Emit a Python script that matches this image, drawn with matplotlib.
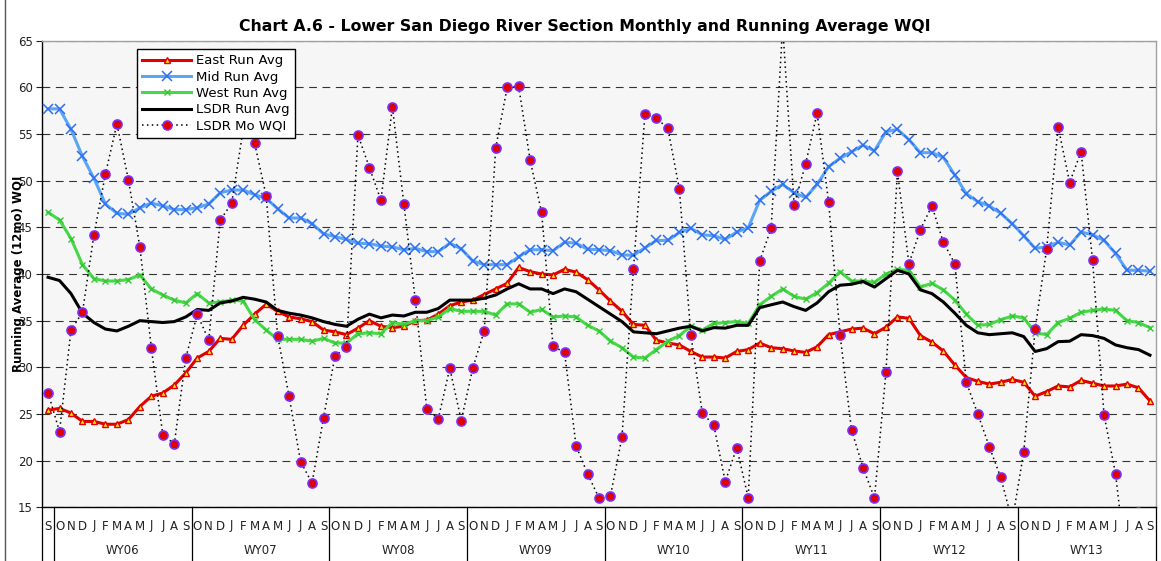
import matplotlib
matplotlib.use("Agg")
import matplotlib.pyplot as plt
import matplotlib.transforms as mtransforms

# ---------------- data ----------------
months = ["S"] + ["O", "N", "D", "J", "F", "M", "A", "M", "J", "J", "A", "S"] * 8
water_years = ["WY06", "WY07", "WY08", "WY09", "WY10", "WY11", "WY12", "WY13"]

east_run = [25.4, 25.6, 25.1, 24.2, 24.2, 23.9, 23.9, 24.4, 25.8, 26.9, 27.25, 28.1, 29.4,
            31.0, 31.7, 33.1, 33.0, 34.5, 35.7, 36.75, 36.0, 35.4, 35.2, 34.9, 34.0,
            33.8, 33.5, 34.2, 35.0, 34.4, 34.25, 34.4, 35.0, 35.05, 35.7, 36.6, 37.0,
            37.2, 37.8, 38.4, 39.0, 40.7, 40.25, 40.0, 39.9, 40.5, 40.2, 39.4, 38.3,
            37.1, 36.0, 34.6, 34.5, 32.9, 32.6, 32.4, 31.7, 31.1, 31.1, 31.0, 31.7,
            31.9, 32.6, 32.1, 32.0, 31.75, 31.6, 32.2, 33.5, 33.8, 34.1, 34.2, 33.6,
            34.3, 35.4, 35.25, 33.4, 32.7, 31.75, 30.25, 28.9, 28.5, 28.2, 28.4, 28.7,
            28.4, 26.9, 27.4, 28.0, 27.9, 28.6, 28.3, 28.0, 28.0, 28.2, 27.8, 26.4]

mid_run = [57.7, 57.7, 55.5, 52.6, 50.25, 47.5, 46.5, 46.4, 47.1, 47.6, 47.3, 46.9, 46.9,
           47.1, 47.5, 48.7, 49.0, 49.0, 48.5, 48.1, 47.0, 46.0, 46.0, 45.4, 44.3,
           44.0, 43.7, 43.3, 43.25, 43.0, 42.9, 42.6, 42.75, 42.4, 42.4, 43.3, 42.7,
           41.4, 41.0, 41.0, 41.0, 41.85, 42.6, 42.6, 42.5, 43.4, 43.3, 42.65, 42.6,
           42.5, 42.05, 42.0, 42.8, 43.6, 43.6, 44.45, 44.9, 44.2, 44.1, 43.7, 44.5,
           44.95, 47.9, 48.85, 49.6, 48.7, 48.2, 49.6, 51.5, 52.4, 53.1, 53.8, 53.2,
           55.25, 55.5, 54.4, 53.0, 53.0, 52.5, 50.6, 48.6, 47.75, 47.3, 46.5, 45.4,
           44.1, 42.75, 42.9, 43.4, 43.1, 44.5, 44.2, 43.6, 42.2, 40.4, 40.4, 40.3]

west_run = [46.6, 45.8, 43.8, 41.0, 39.5, 39.25, 39.25, 39.4, 39.9, 38.4, 37.75, 37.2, 36.9,
            37.9, 36.9, 37.0, 37.2, 37.1, 35.1, 34.0, 33.0, 33.0, 33.0, 32.8, 33.1,
            32.6, 32.6, 33.6, 33.7, 33.6, 34.8, 34.6, 35.0, 35.0, 35.4, 36.3, 36.0,
            36.0, 36.0, 35.6, 36.8, 36.8, 35.9, 36.2, 35.4, 35.5, 35.4, 34.5, 33.9,
            32.8, 32.1, 31.1, 31.0, 31.9, 32.8, 33.4, 34.4, 34.0, 34.7, 34.8, 34.9,
            34.7, 36.7, 37.6, 38.4, 37.6, 37.3, 38.0, 39.0, 40.25, 39.25, 39.25, 39.1,
            40.0, 40.5, 40.4, 38.6, 39.0, 38.3, 37.2, 35.7, 34.5, 34.6, 35.1, 35.5,
            35.3, 33.7, 33.5, 34.8, 35.25, 35.9, 36.1, 36.25, 36.1, 35.0, 34.8, 34.25]

lsdr_run = [39.65, 39.3, 37.9, 35.8, 34.8, 34.1, 33.9, 34.4, 35.0, 34.9, 34.8, 34.9, 35.4,
            36.2, 36.1, 36.9, 37.1, 37.5, 37.3, 37.0, 36.1, 35.8, 35.6, 35.3, 34.9,
            34.6, 34.4, 35.15, 35.7, 35.3, 35.6, 35.5, 35.9, 35.9, 36.3, 37.2, 37.2,
            37.2, 37.4, 37.75, 38.4, 38.95, 38.4, 38.4, 37.9, 38.4, 38.1, 37.3, 36.5,
            35.7, 34.9, 33.8, 33.7, 33.6, 33.9, 34.2, 34.4, 33.9, 34.25, 34.2, 34.5,
            34.5, 36.4, 36.7, 37.0, 36.5, 36.1, 36.9, 38.1, 38.8, 38.9, 39.2, 38.6,
            39.5, 40.4, 40.0, 38.3, 37.9, 37.0, 35.8, 34.5, 33.7, 33.5, 33.6, 33.7,
            33.3, 31.7, 32.0, 32.75, 32.8, 33.5, 33.4, 33.1, 32.4, 32.1, 31.9, 31.3]

lsdr_monthly = [27.3, 23.1, 34.0, 35.9, 44.2, 50.7, 56.1, 50.1, 42.9, 32.1, 22.75, 21.8, 31.0,
                35.7, 32.9, 45.75, 47.6, 55.5, 54.0, 48.4, 33.4, 26.9, 19.9, 17.6, 24.6,
                31.2, 32.2, 54.9, 51.4, 47.9, 57.9, 47.5, 37.2, 25.5, 24.5, 29.9, 24.3,
                29.9, 33.9, 53.5, 60.0, 60.1, 52.2, 46.6, 32.25, 31.6, 21.6, 18.6, 16.0,
                16.25, 22.5, 40.5, 57.1, 56.7, 55.6, 49.1, 33.5, 25.1, 23.8, 17.75, 21.4,
                16.0, 41.4, 44.9, 66.6, 47.4, 51.8, 57.25, 47.75, 33.5, 23.3, 19.25, 16.0,
                29.5, 51.0, 41.1, 44.75, 47.3, 43.4, 41.1, 28.4, 25.0, 21.5, 18.2, 13.5,
                20.9, 34.1, 42.7, 55.8, 49.8, 53.1, 41.5, 24.9, 18.6, 8.0, 14.5, 12.0]

y_ticks = [15, 20, 25, 30, 35, 40, 45, 50, 55, 60, 65]
title = "Chart A.6 - Lower San Diego River Section Monthly and Running Average WQI"
ylabel = "Running Average (12mo) WQI"

# ---------------- figure ----------------
plt.rcParams['font.family'] = ['DejaVu Sans']
W, H = 1161, 561
fig = plt.figure(figsize=(W / 100, H / 100), dpi=100)
L, R, T, B = 42.3, 1155.7, 40.7, 507.3
ax = fig.add_axes([L / W, 1 - B / H, (R - L) / W, (B - T) / H])
ax.set_facecolor('#f6f6f6')

x = list(range(len(months)))

ax.plot(x, east_run, color='#e00000', lw=2.2, marker='^', ms=4.8,
        mfc='#ffee00', mec='#e00000', mew=1.0, label='East Run Avg', zorder=3)
ax.plot(x, mid_run, color='#5aa5f5', lw=2.2, marker='x', ms=7.5,
        mec='#2f6ff0', mew=1.1, label='Mid Run Avg', zorder=3)
ax.plot(x, west_run, color='#47d847', lw=2.2, marker='x', ms=5,
        mec='#36c836', mew=1.0, label='West Run Avg', zorder=3)
ax.plot(x, lsdr_run, color='black', lw=2.2, label='LSDR Run Avg', zorder=3)
ax.plot(x, lsdr_monthly, color='black', lw=1.1, ls=(0, (1, 2.2)), marker='o', ms=6.5,
        mfc='#e00000', mec='#7a30ff', mew=1.2, label='LSDR Mo WQI', zorder=4)

ax.set_xlim(-0.5, len(months) - 0.5)
ax.set_ylim(15, 65)
ax.set_yticks(y_ticks)
ax.set_xticks([])
ax.tick_params(axis='y', direction='out', length=4, width=0.8, labelsize=8.5,
               colors='#222222', pad=3)
ax.yaxis.grid(True, color='#333333', lw=0.8, ls=(0, (7, 5)))
ax.set_axisbelow(True)

for s in ['top', 'right']:
    ax.spines[s].set_color('#a0a0a0')
    ax.spines[s].set_linewidth(1.0)
for s in ['left', 'bottom']:
    ax.spines[s].set_color('black')
    ax.spines[s].set_linewidth(1.0)

# category axis (two levels)
trans = mtransforms.blended_transform_factory(ax.transData, ax.transAxes)
ah = B - T
for i, m in enumerate(months):
    ax.text(i, -18.7 / ah, m, transform=trans, ha='center', va='center',
            fontsize=8.5, color='#222222')
for k, wy in enumerate(water_years):
    ax.text(6.5 + 12 * k, -43.7 / ah, wy, transform=trans, ha='center', va='center',
            fontsize=8.5, color='#222222')
bounds = [-0.5, 0.5] + [0.5 + 12 * (k + 1) for k in range(len(water_years))]
for b in bounds:
    ax.plot([b, b], [0, -(H - B) / ah], transform=trans, color='black',
            lw=0.9, clip_on=False)

# legend
leg = ax.legend(loc='upper left', bbox_to_anchor=((137 - L) / (R - L), (B - 49) / ah),
                borderaxespad=0, fontsize=9.5, frameon=True, fancybox=False,
                edgecolor='black', framealpha=1, handlelength=3.7, handletextpad=0.4,
                labelspacing=0.25, borderpad=0.4)
leg.get_frame().set_linewidth(1.0)

# titles
fig.text(585 / W, 1 - 26 / H, title, ha='center', va='center', fontsize=11.3,
         fontweight='bold')
fig.text(19 / W, 1 - 274 / H, ylabel, rotation=90, ha='center', va='center',
         fontsize=8.5, fontweight='bold')

# chart-area left border
fig.add_artist(plt.Line2D([4.5 / W, 4.5 / W], [0, 1], transform=fig.transFigure,
                          color='#555555', lw=1.0))

fig.savefig('out.png', dpi=100)
